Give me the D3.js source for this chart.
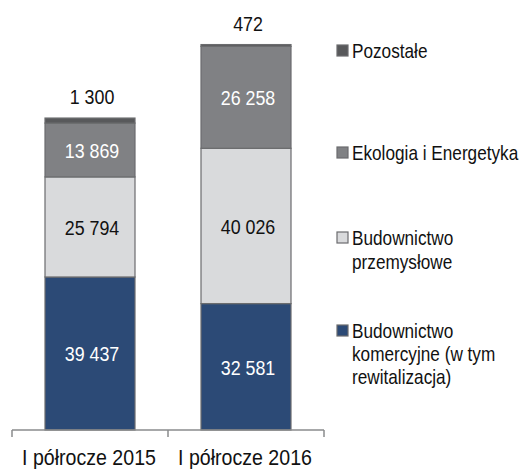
<!DOCTYPE html>
<html>
<head>
<meta charset="utf-8">
<script src="https://cdn.jsdelivr.net/npm/d3@7"></script>
<style>
  body { margin: 0; background: #fff; }
  svg text { font-family: "Liberation Sans", Arial, sans-serif; }
</style>
</head>
<body>
<svg id="chart" width="522" height="469"></svg>
<script>
// data
const categories = ['I półrocze 2015', 'I półrocze 2016'];
const seriesNames = ['Budownictwo komercyjne (w tym rewitalizacja)', 'Budownictwo przemysłowe', 'Ekologia i Energetyka', 'Pozostałe'];
const komercyjne = [39437, 32581];
const przemyslowe = [25794, 40026];
const ekologia = [13869, 26258];
const pozostale = [1300, 472];

const colors = ['#2c4a76', '#d9dadc', '#808184', '#58595b'];
const labelColors = ['#fff', '#111', '#fff', '#111'];
const legendLines = [
  ['Budownictwo', 'komercyjne (w tym', 'rewitalizacja)'],
  ['Budownictwo', 'przemysłowe'],
  ['Ekologia i Energetyka'],
  ['Pozostałe']
];

const fmt = v => d3.format(',')(v).replace(/,/g, ' ');

const svg = d3.select('#chart');

const x = d3.scaleBand().domain(categories).range([12, 324]).paddingInner(0).paddingOuter(0);
const y = d3.scaleLinear().domain([0, 100000]).range([430, 42]);
const barW = 90;

const table = categories.map((c, i) => ({
  cat: c, k: komercyjne[i], p: przemyslowe[i], e: ekologia[i], o: pozostale[i]
}));
const stack = d3.stack().keys(['k', 'p', 'e', 'o'])(table);

// narrow look: squeeze Liberation Sans horizontally
let narrowText = function (parent, tx, ty, size, sx, anchor, fill) {
  return parent.append('g')
    .attr('transform', 'translate(' + tx + ',' + ty + ') scale(' + sx + ',1)')
    .append('text')
    .attr('text-anchor', anchor)
    .attr('font-size', size)
    .attr('fill', fill);
};

// bars
stack.forEach((layer, li) => {
  const g = svg.append('g');
  g.selectAll('rect').data(layer).join('rect')
    .attr('x', d => x(d.data.cat) + x.bandwidth() / 2 - barW / 2)
    .attr('width', barW)
    .attr('y', d => y(d[1]))
    .attr('height', d => y(d[0]) - y(d[1]))
    .attr('fill', colors[li])
    .attr('stroke', '#6b6c6e')
    .attr('stroke-width', 1.2);

  layer.forEach(d => {
    const cx = x(d.data.cat) + x.bandwidth() / 2 + 2;
    const cy = li === 3 ? y(d[1]) - 14 : (y(d[0]) + y(d[1])) / 2 + 8;
    narrowText(g, cx, cy, 21, 0.85, 'middle', labelColors[li]).text(fmt(d[1] - d[0]));
  });
});

// x axis
const axisG = svg.append('g');
axisG.append('line')
  .attr('x1', x.range()[0]).attr('x2', x.range()[1])
  .attr('y1', y(0)).attr('y2', y(0))
  .attr('stroke', '#8a8b8d').attr('stroke-width', 1.5);
const tickPos = categories.map(c => x(c)).concat([x.range()[1]]);
axisG.selectAll('.tick').data(tickPos).join('line')
  .attr('x1', d => d).attr('x2', d => d)
  .attr('y1', y(0)).attr('y2', y(0) + 7)
  .attr('stroke', '#8a8b8d').attr('stroke-width', 1.5);
categories.forEach(c => {
  narrowText(axisG, x(c) + x.bandwidth() / 2 - 1, 465, 22.5, 0.87, 'middle', '#111').text(c);
});

// legend (top to bottom: Pozostałe first)
const legendBase = [58, 160, 245, 338];
const legendStep = [24, 23];
const legend = svg.append('g');
[3, 2, 1, 0].forEach((si, row) => {
  const ly = legendBase[row];
  legend.append('rect')
    .attr('x', 337).attr('y', ly - 13)
    .attr('width', 11).attr('height', 11)
    .attr('fill', colors[si])
    .attr('stroke', '#6b6c6e').attr('stroke-width', 1.2);
  const t = narrowText(legend, 352, ly, 20, 0.86, 'start', '#111');
  legendLines[si].forEach((line, li) => {
    t.append('tspan').attr('x', 0).attr('dy', li === 0 ? 0 : (si === 0 ? legendStep[1] : legendStep[0])).text(line);
  });
});
</script>
</body>
</html>
